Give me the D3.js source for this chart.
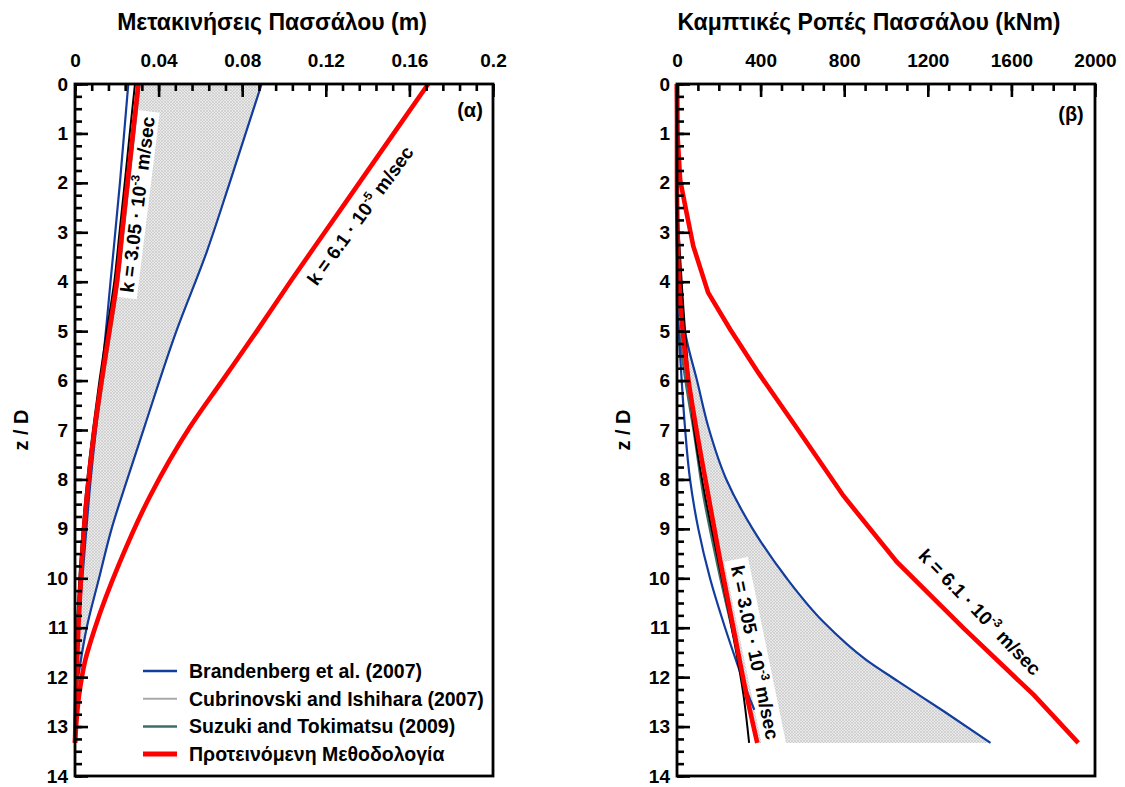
<!DOCTYPE html>
<html><head><meta charset="utf-8">
<script src="https://cdn.jsdelivr.net/npm/d3@7/dist/d3.min.js"></script>
<style>
body{margin:0;background:#fff}
text{font-family:"Liberation Sans",Arial,Helvetica,sans-serif;font-weight:bold;fill:#000}
</style>
</head><body>
<svg id="chart" width="1125" height="787"></svg>
<script>
// ---------------- data ----------------
const depthTicks = [0,1,2,3,4,5,6,7,8,9,10,11,12,13,14];
const dispTicks = [0,0.04,0.08,0.12,0.16,0.2];
const momentTicks = [0,400,800,1200,1600,2000];

// (α) displacements (m) vs z/D
const dispBrandLowZ = [0,2,4,6,8,10,11,12.3];
const dispBrandLow  = [0.0255,0.0215,0.017,0.0125,0.0075,0.0035,0.0015,0];
const dispBrandHighZ = [0,2,3.4,5,6.9,8,9,10,11,12,12.4];
const dispBrandHigh  = [0.0893,0.074,0.063,0.0485,0.0335,0.025,0.0175,0.0115,0.0056,0.0015,0];
const dispCubLowZ = [0,1,2,3,4,5,6,7,8,9,10,11,12,13.33];
const dispCubLow  = [0.0313,0.0287,0.0261,0.0235,0.021,0.0174,0.0137,0.0103,0.0074,0.0052,0.0036,0.0022,0.0011,0];
const dispCubHighZ = [0,2,3.4,5,6.9,8,9,10,11,12,13.33];
const dispCubHigh  = [0.0893,0.074,0.063,0.0485,0.0335,0.025,0.0175,0.0115,0.0056,0.0015,0];
const dispSuzukiZ = [0,1,2,3,4,5,6,7,8,9,10,11,12,13.33];
const dispSuzuki  = [0.0309,0.0283,0.0257,0.0231,0.0206,0.017,0.0133,0.0099,0.007,0.0048,0.0032,0.0019,0.0009,0];
const dispBlackZ = [0,1,2,3,4,5,6,7,8,9,10,11,12,12.5];
const dispBlack  = [0.0287,0.0262,0.0238,0.0213,0.0188,0.0152,0.0117,0.0086,0.0059,0.0037,0.0021,0.001,0.0003,0];
const dispPropK305Z = [0,1,2,3,4,5,6,7,8,9,10,11,12,13.33];
const dispPropK305  = [0.0303,0.0277,0.0251,0.0225,0.02,0.0164,0.0127,0.0093,0.0065,0.0043,0.0028,0.0016,0.0007,0];
const dispPropK61Z = [0,1,2,3,4,5,6,6.94,8.33,9.67,11,11.68,12.35,13.33];
const dispPropK61  = [0.169,0.1525,0.136,0.1195,0.103,0.087,0.0705,0.055,0.036,0.0215,0.0096,0.0048,0.002,0];

// (β) bending moments (kNm) vs z/D
const momBrandLowZ = [0,4.3,5,5.97,6.94,7.99,9,10,11,11.69,12.36,12.66];
const momBrandLow  = [0,0,8,22,38,62,102,158,230,285,341,370];
const momBrandHighZ = [0,3,4,4.65,5.3,5.97,6.94,7.99,9,10,10.88,11.65,12.09,12.7,13.33];
const momBrandHigh  = [0,0,5,22,53,94,150,235,362,525,700,905,1060,1280,1500];
const momCubLowZ = [0,4.5,5,6,6.94,8.33,9.67,11.01,12.36,13.33];
const momCubLow  = [0,0,15,45,88,142,200,265,328,378];
const momCubHighZ = [0,3,4,4.65,5.3,5.97,6.94,7.99,9,10,10.88,11.65,12.09,12.7,13.33];
const momCubHigh  = [0,0,5,22,53,94,150,235,362,525,700,905,1060,1280,1500];
const momSuzukiZ = [0,4.5,5,6,6.98,8.33,9.67,11.01,12.0];
const momSuzuki  = [0,0,10,40,78,126,190,262,318];
const momBlackZ = [0,2.3,3.28,4.96,6.94,8.33,9.67,11.01,12.36,13.33];
const momBlack  = [0,0,12,38,80,134,198,262,318,345];
const momPropK305Z = [0,2,3,4,5,6,6.94,8.33,9.67,11.01,12.36,13.33];
const momPropK305  = [0,0,3,10,27,55,91,150,208,270,333,384];
const momPropK61Z = [0,1,1.94,2.2,2.61,3.28,4.22,4.96,5.84,6.94,8.33,9.67,11.01,12.36,13.33];
const momPropK61  = [0,2,15,27,46,78,149,254,389,570,796,1052,1371,1707,1920];

const legendLabels = ["Brandenberg et al. (2007)","Cubrinovski and Ishihara (2007)","Suzuki and Tokimatsu (2009)","Προτεινόμενη Μεθοδολογία"];
const legendColors = ["#123c9e","#a8a8a8","#3e6e68","#ff0000"];
const legendWidths = [2.5,2,2.5,5];

// ---------------- layout ----------------
const svg = d3.select("#chart");
const yTop = 84, yBottom = 776;
const y = d3.scaleLinear().domain([0,14]).range([yTop,yBottom]);
const xD = d3.scaleLinear().domain([0,0.2]).range([75,493]);
const xM = d3.scaleLinear().domain([0,2000]).range([677,1095]);

const defs = svg.append("defs");
const pat = defs.append("pattern").attr("id","hatch").attr("patternUnits","userSpaceOnUse")
  .attr("width",3).attr("height",3);
pat.append("rect").attr("width",3).attr("height",3).attr("fill","#e9e9e9");
pat.append("path").attr("d","M0,3 L3,0 M-1,1 L1,-1 M2,4 L4,2 M0,0 L3,3")
  .attr("stroke","#c4c4c4").attr("stroke-width",0.6);

function zip(zs, vs){ return zs.map((z,i)=>({z:z, v:vs[i]})); }

function panel(x, title, titleX){
  const g = svg.append("g");
  const [x0,x1] = x.range();
  g.append("text").attr("x",titleX).attr("y",30).attr("text-anchor","middle")
    .attr("font-size",23).text(title);
  g.append("text").attr("transform",`translate(${x0-47},${(yTop+yBottom)/2}) rotate(-90)`)
    .attr("text-anchor","middle").attr("font-size",20).text("z / D");
  return g;
}

function axes(g, x, ticks, minor, fmt){
  const [x0,x1] = x.range();
  const ax = g.append("g").attr("transform",`translate(0,${yTop})`)
    .call(d3.axisTop(x).tickValues(minor).tickSize(-7).tickFormat(""));
  const ax2 = g.append("g").attr("transform",`translate(0,${yTop})`)
    .call(d3.axisTop(x).tickValues(ticks).tickSize(-13).tickPadding(17).tickFormat(fmt));
  const ay = g.append("g").attr("transform",`translate(${x0},0)`)
    .call(d3.axisLeft(y).tickValues(d3.range(0,14.01,0.25)).tickSize(-7).tickFormat(""));
  const ay2 = g.append("g").attr("transform",`translate(${x0},0)`)
    .call(d3.axisLeft(y).tickValues(depthTicks).tickSize(-13).tickPadding(7).tickFormat(d=>String(d)));
  [ax,ax2,ay,ay2].forEach(a=>{
    a.select(".domain").remove();
    a.selectAll("line").attr("stroke","#000").attr("stroke-width",2.6);
    a.selectAll("text").attr("font-size",19).attr("font-family",null).attr("fill","#000");
  });
  g.append("rect").attr("x",x0).attr("y",yTop).attr("width",x1-x0).attr("height",yBottom-yTop)
    .attr("fill","none").attr("stroke","#000").attr("stroke-width",2.8);
}

function hatchArea(g, x, lowZ, low, highZ, high){
  const lo = zip(lowZ, low), hi = zip(highZ, high).reverse();
  const pts = lo.concat(hi).map(d=>[x(d.v), y(d.z)]);
  g.append("path").attr("d", "M" + pts.map(p=>p.join(",")).join("L") + "Z")
    .attr("fill","url(#hatch)").attr("stroke","none");
}

function drawLine(g, x, zs, vs, color, w, smooth){
  const lf = d3.line().x(d=>x(d.v)).y(d=>y(d.z)).curve(smooth ? d3.curveMonotoneY : d3.curveLinear);
  g.append("path").datum(zip(zs,vs)).attr("d", lf)
    .attr("fill","none").attr("stroke",color).attr("stroke-width",w);
}

function kLabel(g, cx, cy, angle, mant, exp){
  const lg = g.append("g").attr("transform",`translate(${cx},${cy}) rotate(${angle})`);
  const t = lg.append("text").attr("text-anchor","middle").attr("dy","0.36em").attr("font-size",19);
  t.append("tspan").text(`k = ${mant} · 10`);
  t.append("tspan").attr("font-size",12).attr("dy",-8).text(exp);
  t.append("tspan").attr("dy",8).text(" m/sec");
  return lg;
}
function kBox(g, cx, cy, angle, len, h){
  g.append("rect").attr("transform",`translate(${cx},${cy}) rotate(${angle})`)
    .attr("x",-len/2).attr("y",-h/2).attr("width",len).attr("height",h).attr("fill","#fff");
}

// ---------- panel α ----------
const gA = panel(xD, "Μετακινήσεις Πασσάλου (m)", 272);
hatchArea(gA, xD, dispCubLowZ, dispCubLow, dispCubHighZ, dispCubHigh);
kBox(gA, xD(0.0298), y(2.44), -83, 188, 22);
drawLine(gA, xD, dispCubLowZ, dispCubLow, "#a8a8a8", 1.2, true);
drawLine(gA, xD, dispCubHighZ, dispCubHigh, "#a8a8a8", 1.2, true);
drawLine(gA, xD, dispSuzukiZ, dispSuzuki, "#3e6e68", 2, true);
drawLine(gA, xD, dispBrandLowZ, dispBrandLow, "#123c9e", 2.2, true);
drawLine(gA, xD, dispBrandHighZ, dispBrandHigh, "#123c9e", 2.2, true);
drawLine(gA, xD, dispBlackZ, dispBlack, "#000", 2, true);
drawLine(gA, xD, dispPropK305Z, dispPropK305, "#ff0000", 4.6, true);
drawLine(gA, xD, dispPropK61Z, dispPropK61, "#ff0000", 4.6, true);
kLabel(gA, xD(0.0298), y(2.44), -83, "3.05", "-3");
kLabel(gA, xD(0.1364), y(2.66), -54, "6.1", "-5");
gA.append("text").attr("x",470).attr("y",117).attr("text-anchor","middle").attr("font-size",20).text("(α)");
axes(gA, xD, dispTicks, d3.range(0,0.2001,0.008).map(v=>+v.toFixed(3)), d=>String(d));

const leg = gA.append("g");
legendLabels.forEach((lab,i)=>{
  const yy = 671 + i*27.7;
  leg.append("line").attr("x1",143).attr("x2",177).attr("y1",yy).attr("y2",yy)
    .attr("stroke",legendColors[i]).attr("stroke-width",legendWidths[i]);
  leg.append("text").attr("x",189).attr("y",yy).attr("dy","0.36em").attr("font-size",19.5).text(lab);
});

// ---------- panel β ----------
const gB = panel(xM, "Καμπτικές Ροπές Πασσάλου (kNm)", 869);
hatchArea(gB, xM, momCubLowZ, momCubLow, momCubHighZ, momCubHigh);
kBox(gB, xM(374), y(11.5), 78.4, 190, 24);
drawLine(gB, xM, momCubLowZ, momCubLow, "#a8a8a8", 1.2, true);
drawLine(gB, xM, momSuzukiZ, momSuzuki, "#3e6e68", 2.2, true);
drawLine(gB, xM, momBrandLowZ, momBrandLow, "#123c9e", 2.2, true);
drawLine(gB, xM, momBrandHighZ, momBrandHigh, "#123c9e", 2.2, true);
drawLine(gB, xM, momBlackZ, momBlack, "#000", 2, true);
drawLine(gB, xM, momPropK305Z, momPropK305, "#ff0000", 4.6, true);
drawLine(gB, xM, momPropK61Z, momPropK61, "#ff0000", 4.6, false);
kLabel(gB, xM(374), y(11.5), 78.4, "3.05", "-3");
kLabel(gB, xM(1450), y(10.68), 46, "6.1", "-3");
gB.append("text").attr("x",1071).attr("y",121).attr("text-anchor","middle").attr("font-size",20).text("(β)");
axes(gB, xM, momentTicks, d3.range(0,2001,100), d=>String(d));
</script>
</body></html>
